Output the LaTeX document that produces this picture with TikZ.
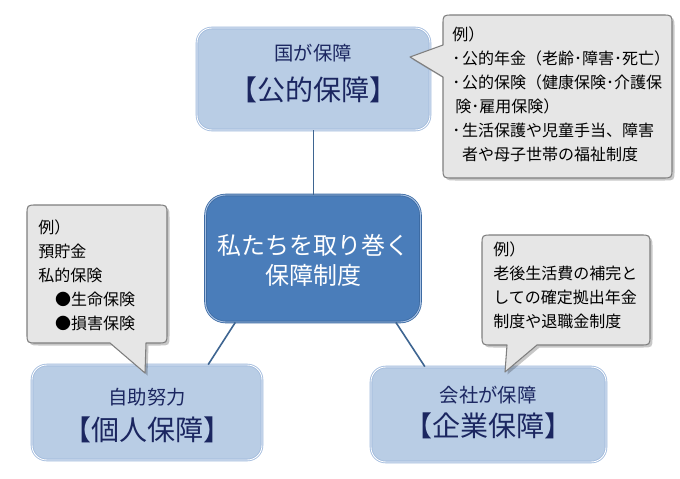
\documentclass[tikz,border=0pt]{standalone}
\usepackage{fontspec}
\newfontfamily\jp{Noto Sans CJK JP}
\usetikzlibrary{calc}
\definecolor{boxfill}{HTML}{B9CDE5}
\definecolor{boxline}{HTML}{9FB9DC}
\definecolor{cfill}{HTML}{4A7DBA}
\definecolor{cline}{HTML}{3D6BA3}
\definecolor{cinner}{HTML}{A8C2E4}
\definecolor{navy}{HTML}{1B2660}
\definecolor{conn}{HTML}{3E6591}
\definecolor{callfill}{HTML}{E6E6E6}
\definecolor{callline}{HTML}{7F7F7F}
\newcommand\mybul{･\hspace{0.12em}}
\begin{document}
\begin{tikzpicture}[x=0.75pt,y=-0.75pt,
  bluebox/.style={draw=boxline, double=white, double distance=0.7pt, line width=0.6pt,
    fill=boxfill, rounded corners=11pt, inner sep=0pt},
  centerbox/.style={draw=cline, double=cinner, double distance=0.7pt, line width=0.6pt,
    fill=cfill, rounded corners=15pt, inner sep=0pt, minimum width=161.25pt, minimum height=95.25pt},
  smalltitle/.style={font=\jp\fontsize{14.5}{17}\selectfont, text=navy, inner sep=0pt},
  bigtitle/.style={font=\jp\fontsize{21}{25}\selectfont, text=navy, inner sep=0pt},
  ctext/.style={font=\jp\fontsize{18}{22}\selectfont, text=white, inner sep=0pt},
  calltext/.style={font=\jp\fontsize{12}{18}\selectfont, text=black, align=left, inner sep=0pt, anchor=north west},
  callout/.style={fill=callfill, draw=callline, line width=0.8pt, line join=round},
  calloutshadow/.style={fill=black, opacity=0.22},
  connector/.style={draw=conn, line width=1.2pt},
  calloutA/.style={insert path={(453,15) -- (662,15) .. controls (672,15) .. (672,25) -- (672,168)
     .. controls (672,178) .. (662,178) -- (453,178) .. controls (443,178) .. (443,168)
     -- (443,77) -- (410,57) -- (443,45) -- (443,25) .. controls (443,15) .. (453,15) -- cycle}},
  calloutB/.style={insert path={(37,205) -- (157,205) .. controls (167,205) .. (167,215) -- (167,333)
     .. controls (167,343) .. (157,343) -- (146,343) -- (145,373) -- (110,343) -- (37,343)
     .. controls (27,343) .. (27,333) -- (27,215) .. controls (27,205) .. (37,205) -- cycle}},
  calloutC/.style={insert path={(492,235) -- (640,235) .. controls (650,235) .. (650,245) -- (650,335)
     .. controls (650,345) .. (640,345) -- (537,345) -- (505,372) -- (507,345) -- (492,345)
     .. controls (482,345) .. (482,335) -- (482,245) .. controls (482,235) .. (492,235) -- cycle}}
]
\useasboundingbox (0,0) rectangle (680,478);
\fill[white] (0,0) rectangle (680,478);

% boxes
\node[bluebox, minimum width=174.75pt, minimum height=76.5pt] (top) at (313.5,79) {};
\node[centerbox] (ctr) at (313,258.5) {};
\node[bluebox, minimum width=172.5pt, minimum height=71.25pt] (bl) at (147,412.5) {};
\node[bluebox, minimum width=176.25pt, minimum height=71.25pt] (br) at (488.5,414.5) {};

% connectors
\draw[connector] (top.south) -- (top.south |- ctr.north);
\draw[connector] ($(ctr.south west)!0.14!(ctr.south east)$) -- ($(bl.north west)!0.765!(bl.north east)$);
\draw[connector] ($(ctr.south west)!0.884!(ctr.south east)$) -- ($(br.north west)!0.23!(br.north east)$);

% box texts
\node[smalltitle] (topa) at (313,53) {国が保障};
\node[bigtitle] (topb) at (313,90) {【公的保障】};
\node[ctext] (ctra) at (313,245) {私たちを取り巻く};
\node[ctext] (ctrb) at (313,275) {保障制度};
\node[smalltitle] (bla) at (147,397) {自助努力};
\node[bigtitle] (blb) at (147,430) {【個人保障】};
\node[smalltitle] (bra) at (488,395) {会社が保障};
\node[bigtitle] (brb) at (488,426) {【企業保障】};

% callouts
\fill[calloutshadow, shift={(2.5,2.5)}, calloutA];
\path[callout, calloutA];
\fill[calloutshadow, shift={(2.5,2.5)}, calloutB];
\path[callout, calloutB];
\fill[calloutshadow, shift={(2.5,2.5)}, calloutC];
\path[callout, calloutC];

\node[calltext] (ta) at (452,27) {例）\\\mybul 公的年金（老齢･障害･死亡）\\\mybul 公的保険（健康保険･介護保\\\hspace*{0.2em}険･雇用保険）\\\mybul 生活保護や児童手当、障害\\\hspace*{0.62em}者や母子世帯の福祉制度};
\node[calltext] (tb) at (38,220) {例）\\預貯金\\私的保険\\\hspace*{1.05em}●生命保険\\\hspace*{1.05em}●損害保険};
\node[calltext] (tc) at (493,242) {例）\\老後生活費の補完と\\しての確定拠出年金\\制度や退職金制度};
\end{tikzpicture}
\end{document}
